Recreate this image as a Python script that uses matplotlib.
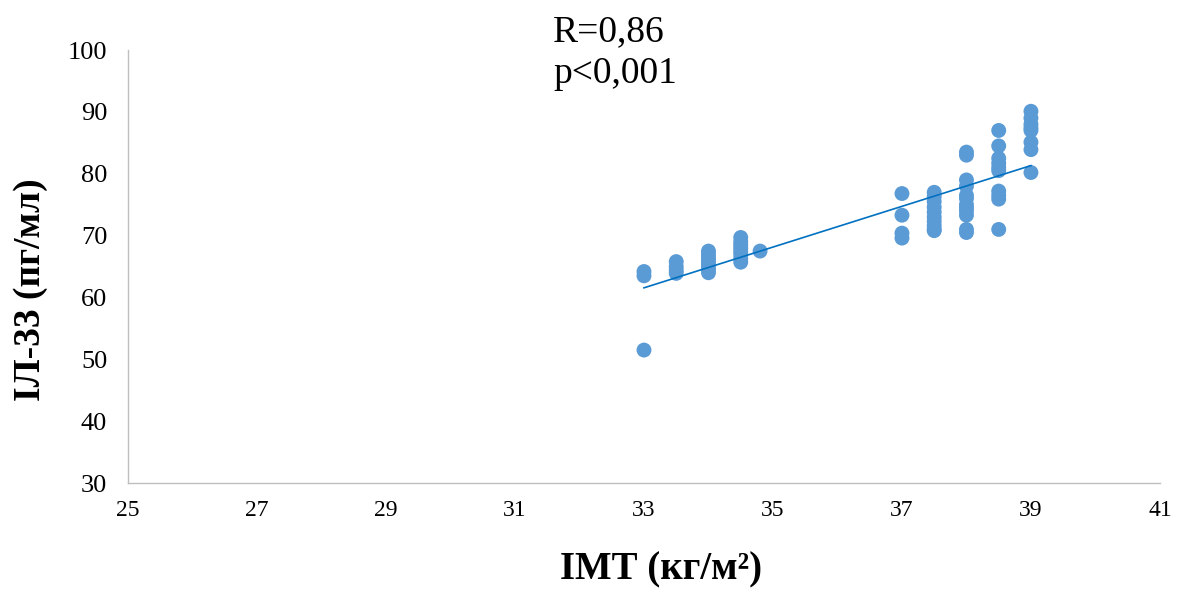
import matplotlib
matplotlib.use("Agg")
import matplotlib.pyplot as plt
import numpy as np

plt.rcParams['font.family'] = ['Liberation Serif', 'DejaVu Serif']

# Data: BMI (x) and IL-33 (y)
x_33 = [33, 33, 33]
y_33 = [64.2, 63.5, 51.5]
x_335 = [33.5] * 4
y_335 = [65.8, 65.0, 64.4, 63.9]
x_34 = [34] * 8
y_34 = [67.5, 67.0, 66.5, 66.0, 65.5, 65.0, 64.5, 64.0]
x_345 = [34.5] * 8
y_345 = [69.7, 69.0, 68.5, 68.0, 67.5, 67.0, 66.3, 65.7]
x_348 = [34.8]
y_348 = [67.5]
x_37 = [37] * 4
y_37 = [76.8, 73.3, 70.4, 69.6]
x_375 = [37.5] * 10
y_375 = [77.0, 76.3, 75.5, 74.6, 73.8, 73.0, 72.3, 71.6, 71.0, 70.8]
x_38 = [38] * 12
y_38 = [83.5, 83.0, 79.0, 78.0, 76.5, 76.0, 75.0, 74.5, 74.0, 73.3, 71.0, 70.5]
x_385 = [38.5] * 10
y_385 = [87.0, 84.5, 82.5, 81.7, 81.0, 80.5, 77.2, 76.5, 75.9, 71.0]
x_39 = [39] * 8
y_39 = [90.1, 89.0, 88.0, 87.4, 87.0, 85.1, 83.9, 80.2]

bmi = np.array(x_33 + x_335 + x_34 + x_345 + x_348 + x_37 + x_375 + x_38 + x_385 + x_39, dtype=float)
il33 = np.array(y_33 + y_335 + y_34 + y_345 + y_348 + y_37 + y_375 + y_38 + y_385 + y_39, dtype=float)

x_ticks = [25, 27, 29, 31, 33, 35, 37, 39, 41]
y_ticks = [30, 40, 50, 60, 70, 80, 90, 100]

fig = plt.figure(figsize=(11.8, 5.92), dpi=100)
ax = fig.add_axes([0.1085, 0.184, 0.8745, 0.7315])

ax.scatter(bmi, il33, s=115, color='#5B9BD5', edgecolors='none', zorder=3)

k, b = np.polyfit(bmi, il33, 1)
xl = np.array([bmi.min(), bmi.max()])
ax.plot(xl, k * xl + b, color='#0070C0', lw=1.2, zorder=4)

ax.set_xlim(25, 41)
ax.set_ylim(30, 100)
ax.set_xticks(x_ticks)
ax.set_yticks(y_ticks)
ax.tick_params(axis='both', length=0)
ax.tick_params(axis='y', labelsize=19, pad=15)
ax.tick_params(axis='x', labelsize=17, pad=12)

for s in ['top', 'right']:
    ax.spines[s].set_visible(False)
for s in ['left', 'bottom']:
    ax.spines[s].set_color('#BFBFBF')
    ax.spines[s].set_linewidth(1.0)

ax.set_xlabel('ІМТ (кг/м²)', fontsize=28, fontweight='bold')
ax.xaxis.set_label_coords(0.517, -0.158)
ax.set_ylabel('ІЛ-33 (пг/мл)', fontsize=27, fontweight='bold')
ax.yaxis.set_label_coords(-0.0775, 0.446)

fig.text(0.4686, 0.976, 'R=0,86\np<0,001', fontsize=27, ha='left', va='top', linespacing=1.3)

fig.savefig('out.png', dpi=100)
